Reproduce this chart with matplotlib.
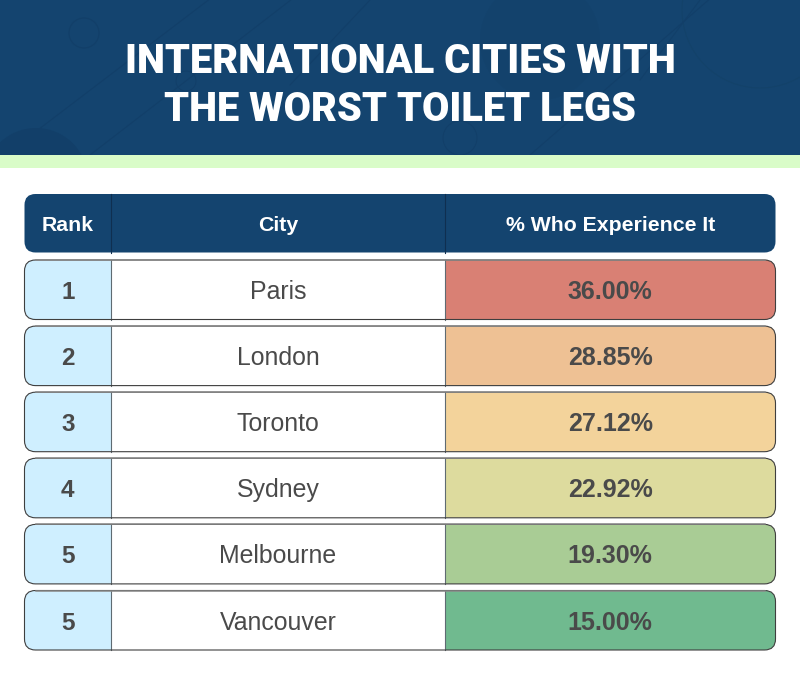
import matplotlib
matplotlib.use("Agg")
import matplotlib.pyplot as plt
from matplotlib.patches import FancyBboxPatch, Rectangle, Circle

title_lines = ["INTERNATIONAL CITIES WITH", "THE WORST TOILET LEGS"]
headers = ["Rank", "City", "% Who Experience It"]
ranks = ["1", "2", "3", "4", "5", "5"]
cities = ["Paris", "London", "Toronto", "Sydney", "Melbourne", "Vancouver"]
percent = [36.00, 28.85, 27.12, 22.92, 19.30, 15.00]
row_colors = ["#D98074", "#EEC194", "#F3D39B", "#DDDB9E", "#A9CC95", "#70BA8F"]

NAVY = "#14446F"
W, H = 800, 688
X0, X1, X2, X3 = 24.5, 111.0, 445.0, 775.5
ROW_TOP, ROW_H, ROW_STEP = 260.0, 59.5, 66.1
HEAD_TOP, HEAD_H = 194.0, 58.5
RADIUS = 11

fig = plt.figure(figsize=(W / 100, H / 100), dpi=100, facecolor="white")
ax = fig.add_axes([0, 0, 1, 1])
ax.set_xlim(0, W)
ax.set_ylim(H, 0)
ax.axis("off")

# banner
banner = Rectangle((0, 0), W, 155, fc=NAVY, ec="none", zorder=1)
ax.add_patch(banner)
ax.add_patch(Rectangle((0, 155), W, 13, fc="#D9FCC8", ec="none", zorder=1))

# faint banner decoration
decor = [
    Circle((84, 33), 15, fc="none", ec="#123F69", lw=0.9),
    Circle((186, 81), 10, fc="none", ec="#123F69", lw=0.7),
    Circle((36, 180), 52, fc="#123F69", ec="none"),
    Circle((460, 138), 17, fc="none", ec="#123F69", lw=0.7),
    Circle((760, 10), 78, fc="none", ec="#134269", lw=0.7),
    Circle((540, 40), 60, fc="#13426C", ec="none"),
]
for d in decor:
    d.set_zorder(2)
    ax.add_patch(d)
    d.set_clip_path(banner)
for (xa, ya, xb, yb) in [(5, 155, 215, -5), (90, 155, 375, -65), (290, 85, 370, 0),
                         (530, 155, 720, -10), (640, 80, 700, 0)]:
    l, = ax.plot([xa, xb], [ya, yb], color="#123F69", lw=0.8, zorder=2)
    l.set_clip_path(banner)

for line, y in zip(title_lines, [72.7, 120.7]):
    ax.text(W / 2 + 0.5, y, line, color="white", ha="center", va="baseline",
            fontfamily="Roboto", fontweight="black", fontsize=28.6, zorder=5)


def rounded(top, height, **kw):
    p = FancyBboxPatch((X0, top), X3 - X0, height,
                       boxstyle=f"round,pad=0,rounding_size={RADIUS}", **kw)
    ax.add_patch(p)
    return p


# header
rounded(HEAD_TOP, HEAD_H, fc=NAVY, ec="none", zorder=3)
for x in (X1, X2):
    ax.plot([x, x], [HEAD_TOP, HEAD_TOP + HEAD_H], color="#0F2F50", lw=0.8, zorder=4)
head_base = HEAD_TOP + 36.7
for label, xc in zip(headers, [(X0 + X1) / 2, (X1 + X2) / 2, (X2 + X3) / 2]):
    ax.text(xc, head_base, label, color="white", ha="center", va="baseline",
            fontfamily="Liberation Sans", fontweight="bold", fontsize=15.3, zorder=5)

# rows
for i, (rank, city, pct, col) in enumerate(zip(ranks, cities, percent, row_colors)):
    top = ROW_TOP + i * ROW_STEP
    clip = rounded(top, ROW_H, fc="none", ec="none", zorder=3)
    for xa, xb, fc in [(X0, X1, "#CFEFFF"), (X1, X2, "white"), (X2, X3, col)]:
        r = Rectangle((xa, top), xb - xa, ROW_H, fc=fc, ec="none", zorder=3)
        ax.add_patch(r)
        r.set_clip_path(clip)
    for x in (X1, X2):
        ax.plot([x, x], [top, top + ROW_H], color="#5F6B72", lw=0.8, zorder=4)
    rounded(top, ROW_H, fc="none", ec="#3F3F3F", lw=0.8, zorder=4)
    ax.plot([X0 + RADIUS, X3 - RADIUS], [top, top], color="#8A8A8A", lw=1.1, zorder=4)
    base = top + 39
    ax.text((X0 + X1) / 2, base, rank, color="#4A4A4A", ha="center", va="baseline",
            fontfamily="Liberation Sans", fontweight="bold", fontsize=17.5, zorder=5)
    ax.text((X1 + X2) / 2, base, city, color="#4A4A4A", ha="center", va="baseline",
            fontfamily="Liberation Sans", fontsize=17.9, zorder=5)
    ax.text((X2 + X3) / 2, base, f"{pct:.2f}%", color="#4A4A4A", ha="center", va="baseline",
            fontfamily="Liberation Sans", fontweight="bold", fontsize=18, zorder=5)

fig.savefig("out.png", dpi=100, facecolor="white")
